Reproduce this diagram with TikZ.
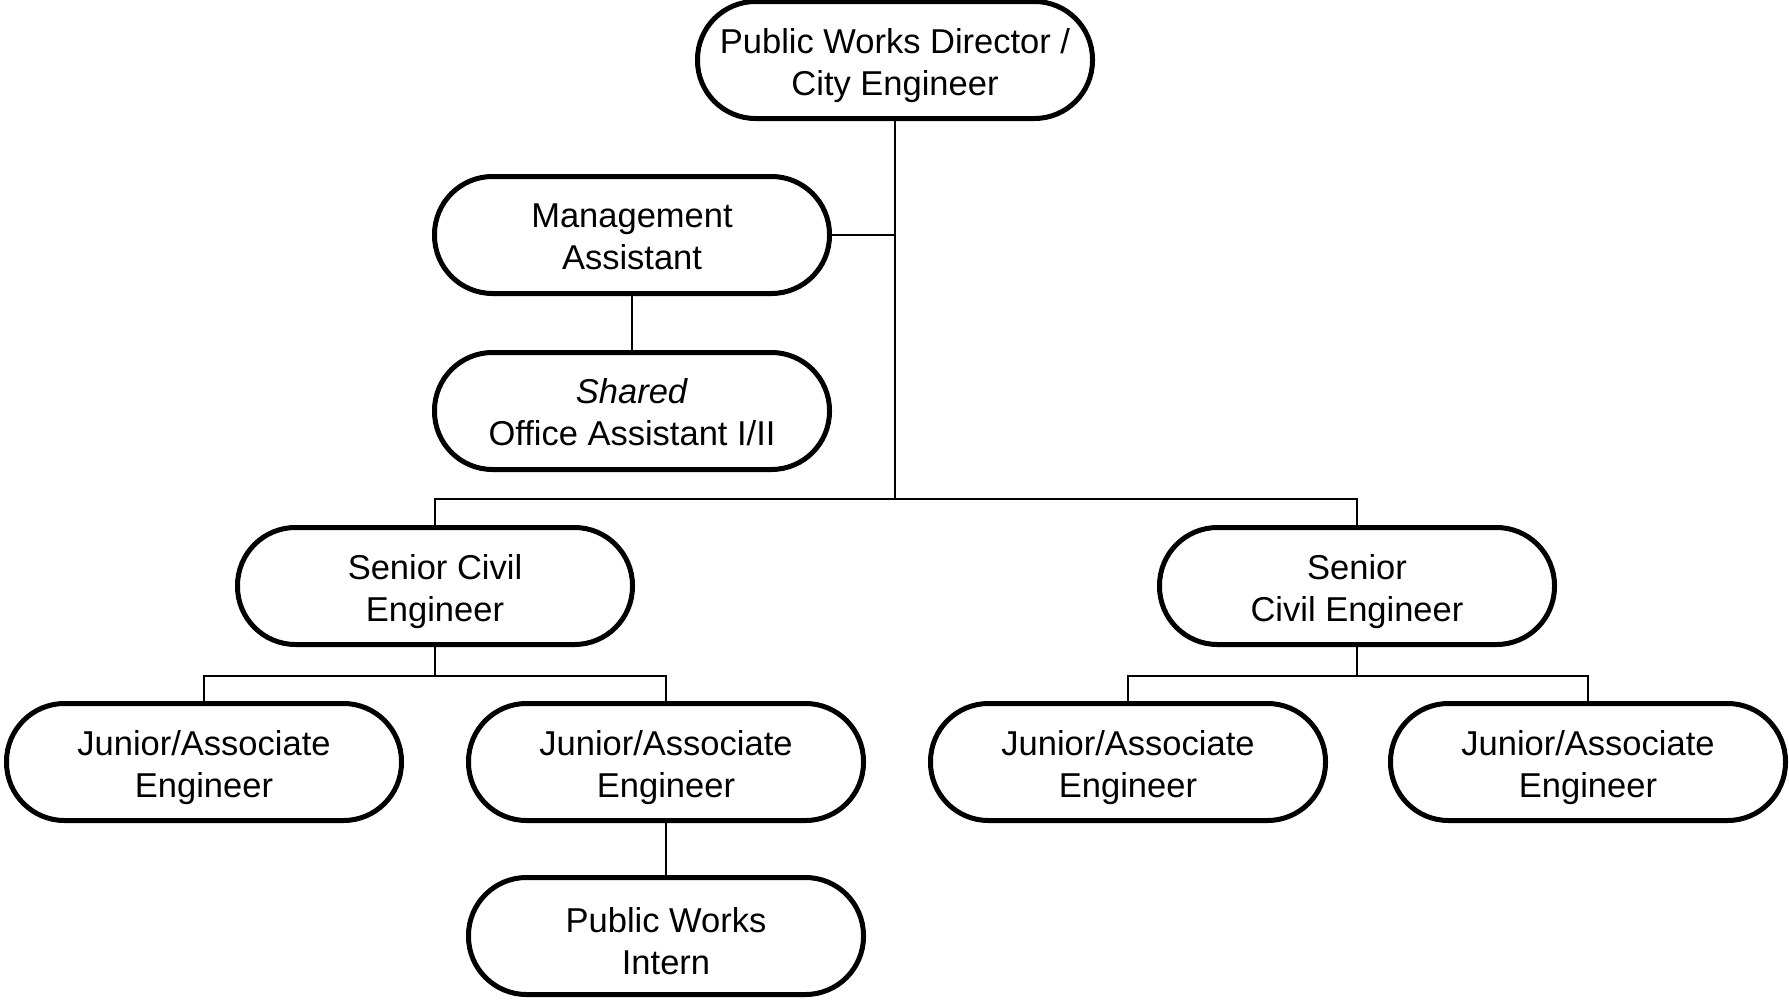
\documentclass[tikz,border=0pt]{standalone}
\usepackage{fontspec}
\setmainfont{Liberation Sans}
\usetikzlibrary{positioning}

% taller first line, pushes the two lines down a little
\newcommand{\topline}[1][36pt]{\rule{0pt}{#1}}

\tikzset{
  post/.style  = {draw, line width=5pt, rounded corners=58pt,
                  minimum width=395pt, minimum height=117pt,
                  inner sep=0pt, align=center,
                  font=\fontsize{34.5}{42}\selectfont},
  link/.style  = {line width=1.5pt}
}

\begin{document}
\begin{tikzpicture}[x=1pt, y=-1pt]
  \useasboundingbox (0,0) rectangle (1789,999);
  % posts
  \node [post] (director) at ( 895,  60) {\topline Public Works Director /\\City Engineer};
  \node [post] (mgmt)     at ( 632, 235) {\topline[28pt]Management\\Assistant};
  \node [post] (office)   at ( 632, 411) {\topline[28pt]\textit{Shared}\\Office Assistant I/II};
  \node [post] (senior1)  at ( 435, 586) {\topline Senior Civil\\Engineer};
  \node [post] (senior2)  at (1357, 586) {\topline Senior\\Civil Engineer};
  \node [post] (junior1)  at ( 204, 762) {\topline Junior/Associate\\Engineer};
  \node [post] (junior2)  at ( 666, 762) {\topline Junior/Associate\\Engineer};
  \node [post] (junior3)  at (1128, 762) {\topline Junior/Associate\\Engineer};
  \node [post] (junior4)  at (1588, 762) {\topline Junior/Associate\\Engineer};
  \node [post] (intern)   at ( 666, 936) {\topline Public Works\\Intern};
  % branch points
  \coordinate (bus)   at ( 895, 499);
  \coordinate (fork1) at ( 435, 676);
  \coordinate (fork2) at (1357, 676);
  % lines
  \draw [link] (director.south) -- (bus);
  \draw [link] (mgmt.east) -- (mgmt.east -| director.south);
  \draw [link] (mgmt.south) -- (office.north);
  \draw [link] (senior1.north) -- (senior1.north |- bus) -- (senior2.north |- bus) -- (senior2.north);
  \draw [link] (senior1.south) -- (fork1);
  \draw [link] (junior1.north) -- (junior1.north |- fork1) -- (junior2.north |- fork1) -- (junior2.north);
  \draw [link] (senior2.south) -- (fork2);
  \draw [link] (junior3.north) -- (junior3.north |- fork2) -- (junior4.north |- fork2) -- (junior4.north);
  \draw [link] (junior2.south) -- (intern.north);
\end{tikzpicture}
\end{document}
